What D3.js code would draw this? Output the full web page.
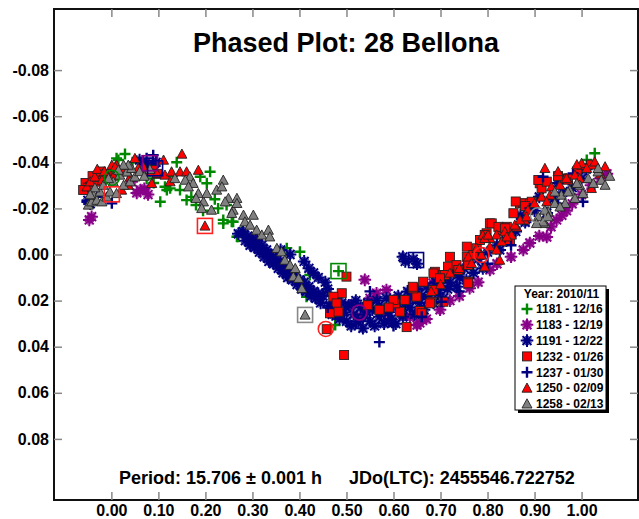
<!DOCTYPE html>
<html><head><meta charset="utf-8">
<script src="https://cdn.jsdelivr.net/npm/d3@7"></script>
<style>
html,body{margin:0;padding:0;background:#fff;}
text{font-family:"Liberation Sans",Arial,sans-serif;font-weight:bold;fill:#000;}
</style></head>
<body><svg id="c" width="639" height="519"></svg>
<script>
const title = "Phased Plot: 28 Bellona";
const periodText = "Period: 15.706 ± 0.001 h";
const epochText = "JDo(LTC): 2455546.722752";
const legendTitle = "Year: 2010/11";
const xTicks = [0,0.1,0.2,0.3,0.4,0.5,0.6,0.7,0.8,0.9,1.0];
const xTickLabels = ["0.00","0.10","0.20","0.30","0.40","0.50","0.60","0.70","0.80","0.90","1.00"];
const yTicks = [-0.08,-0.06,-0.04,-0.02,0,0.02,0.04,0.06,0.08];
const yTickLabels = ["-0.08","-0.06","-0.04","-0.02","0.00","0.02","0.04","0.06","0.08"];
const seriesNames = ["1181 - 12/16","1183 - 12/19","1191 - 12/22","1232 - 01/26","1237 - 01/30","1250 - 02/09","1258 - 02/13"];

// [phase, mag] per session
const s1181 = [[0.011,-0.0417],[0.029,-0.0436],[0.015,-0.041],[0.045,-0.040],[0.104,-0.0229],[0.118,-0.028],[0.114,-0.0294],[0.125,-0.0287],[0.139,-0.040],[0.146,-0.028],[0.16,-0.0236],[0.18,-0.0215],[0.21,-0.0359],[0.189,-0.0337],[0.203,-0.0309],[0.227,-0.020],[0.238,-0.015],[0.256,-0.0142],[0.267,-0.0077],[0.245,-0.0215],[0.238,-0.0135],[0.259,-0.0142],[0.27,-0.0077],[0.277,-0.0099],[0.323,-0.0012],[0.344,0.0031],[0.373,-0.0027],[0.401,-0.0012],[0.422,0.0089],[0.415,0.0183],[0.476,0.0306],[0.483,0.0072],[1.028,-0.0439],[1.011,-0.041],[1.003,-0.0374],[1.018,-0.0388],[0.075,-0.033],[0.09,-0.031],[0.13,-0.034],[0.17,-0.025],[0.195,-0.019],[0.22,-0.024],[0.29,-0.006],[0.31,-0.004],[0.335,0.001],[0.36,0.004],[0.39,0.010],[0.002,-0.034]];
const s1183 = [[-0.042,-0.0164],[-0.047,-0.015],[0.043,-0.0316],[0.054,-0.0267],[0.062,-0.028],[0.078,-0.026],[0.07,-0.0285],[0.08,-0.039],[0.539,0.011],[0.585,0.0154],[0.564,0.0168],[0.635,0.027],[0.656,0.0297],[0.699,0.024],[0.684,0.0124],[0.762,0.0146],[0.65,0.0306],[0.564,0.024],[0.60,0.020],[0.62,0.026],[0.67,0.028],[0.72,0.02],[0.74,0.018],[0.78,0.012],[0.805,0.0067],[0.82,0.004],[0.85,0.001],[0.876,-0.002],[0.89,-0.005],[0.91,-0.008],[0.926,-0.0076],[0.935,-0.012],[0.947,-0.015],[0.958,-0.017],[0.968,-0.019],[0.98,-0.022],[1.0,-0.026],[1.02,-0.03],[1.054,-0.035],[1.04,-0.033],[0.51,0.022],[0.55,0.019],[0.58,0.025],[0.59,0.029],[0.53,0.027]];
const s1191 = [[0.06,-0.041],[0.07,-0.039],[0.088,-0.038],[0.095,-0.040],[-0.05,-0.0235],[-0.045,-0.022],
[0.27,-0.009],[0.28,-0.01],[0.285,-0.006],[0.29,-0.008],[0.295,-0.004],[0.30,-0.007],[0.305,-0.003],[0.31,-0.006],[0.315,-0.001],[0.32,-0.004],[0.325,0.001],[0.33,-0.002],[0.335,0.003],[0.34,0.0],[0.345,0.004],[0.35,0.002],[0.355,0.006],[0.36,0.003],[0.365,0.008],[0.37,0.005],[0.375,0.010],[0.38,0.007],[0.385,0.011],[0.39,0.009],[0.395,0.013],[0.40,0.011],[0.405,0.015],[0.41,0.012],[0.415,0.016],[0.42,0.014],[0.425,0.018],[0.43,0.016],[0.435,0.019],[0.44,0.017],[0.445,0.021],[0.45,0.018],[0.41,0.003],[0.42,0.006],[0.43,0.008],[0.44,0.010],[0.38,0.0],[0.36,-0.002],[0.455,0.012],[0.46,0.015],
[0.465,0.022],[0.47,0.026],[0.475,0.019],[0.48,0.024],[0.485,0.028],[0.49,0.021],[0.495,0.025],[0.50,0.029],[0.505,0.022],[0.51,0.031],[0.515,0.026],[0.52,0.020],[0.525,0.029],[0.53,0.023],[0.535,0.032],[0.54,0.026],[0.545,0.021],[0.55,0.029],[0.555,0.024],[0.56,0.031],[0.565,0.020],[0.57,0.027],[0.575,0.023],[0.58,0.030],[0.585,0.019],[0.59,0.025],[0.595,0.028],[0.60,0.022],[0.605,0.030],[0.61,0.018],[0.615,0.024],[0.62,0.027],[0.625,0.021],[0.63,0.016],[0.635,0.023],[0.64,0.019],[0.645,0.026],[0.65,0.015],[0.655,0.021],[0.66,0.018],[0.665,0.024],[0.67,0.014],[0.675,0.019],[0.68,0.016],[0.685,0.021],[0.69,0.012],[0.695,0.017],[0.70,0.014],[0.705,0.019],[0.71,0.010],[0.715,0.015],[0.72,0.012],[0.73,0.008],[0.735,0.014],[0.74,0.010],[0.75,0.006],[0.755,0.011],[0.76,0.004],[0.77,0.008],[0.78,0.002],[0.79,0.006],[0.80,-0.001],
[0.642,0.002],[0.65,0.004],[0.62,0.001],[0.625,0.003],
[0.82,-0.004],[0.826,-0.002],[0.84,-0.006],[0.86,-0.010],[0.88,-0.014],[0.90,-0.019],[0.926,-0.018],[0.94,-0.024],[0.96,-0.027],[0.98,-0.029],[1.0,-0.033],[1.01,-0.037],[0.87,-0.017],[0.91,-0.025],[0.95,-0.031]];
const s1232 = [[-0.055,-0.031],[-0.05,-0.029],[-0.045,-0.0294],[-0.035,-0.0316],[-0.028,-0.0337],[-0.017,-0.033],[-0.04,-0.034],[-0.022,-0.036],[-0.01,-0.035],[0.089,-0.0366],[0.097,-0.035],[0.075,-0.036],[-0.06,-0.028],
[0.49,0.0168],[0.472,0.0183],[0.479,0.0212],[0.465,0.0255],[0.483,0.0248],[0.458,0.0324],[0.50,0.0096],[0.495,0.0436],[0.628,0.0315],[0.656,0.0245],[0.614,0.0248],[0.649,0.0183],[0.642,0.0147],[0.663,0.0118],[0.681,0.0205],[0.688,0.0075],[0.706,0.0089],[0.72,0.001],[0.716,0.0053],[0.734,0.0046],[0.756,0.001],[0.759,0.0118],[0.777,-0.0027],[0.685,0.0082],[0.709,0.0089],[0.603,0.0212],[0.624,0.0197],[0.641,0.014],[0.60,0.0197],[0.59,0.023],[0.57,0.024],[0.545,0.022],[0.66,0.0255],[0.685,0.0154],[0.678,0.0212],[0.706,0.0205],[0.699,0.0103],[0.738,0.0067],[0.759,0.0046],[0.759,0.0125],[0.805,-0.0135],[0.798,-0.0092],[0.826,-0.0106],[0.841,-0.012],[0.855,-0.0179],[0.869,-0.0222],[0.876,-0.0222],[0.89,-0.0222],[0.911,-0.0309],[0.915,-0.0287],[0.926,-0.0316],[0.848,-0.0063],[0.784,-0.0063],[0.756,-0.0034],[0.77,0.0002],[0.908,-0.0323],[0.894,-0.0229],[0.809,-0.0135],[0.794,-0.0085],[0.823,-0.012],[0.837,-0.0114],[0.971,-0.033],[0.95,-0.034],[0.99,-0.036],[1.02,-0.039],[0.86,-0.023],[0.88,-0.021]];
const s1237 = [[-0.052,-0.0229],[0.001,-0.0222],[0.075,-0.0417],[0.089,-0.0431],[-0.03,-0.025],[0.57,0.038],[0.702,0.0205],[1.003,-0.0229],[0.89,-0.02],[0.982,-0.0352],[0.918,-0.0337],[0.52,0.030],[0.60,0.031],[0.66,0.027],[0.74,0.016],[0.80,0.004],[0.85,-0.004],[0.95,-0.022],[0.46,0.023],[0.55,0.016]];
const s1250 = [[-0.052,-0.0294],[-0.045,-0.0316],[-0.035,-0.0337],[-0.02,-0.0323],[-0.006,-0.0337],[0.001,-0.0388],[0.011,-0.0388],[0.026,-0.0359],[0.04,-0.0337],[0.05,-0.0417],[0.068,-0.0381],[0.082,-0.0359],[0.097,-0.0352],[0.111,-0.041],[0.114,-0.0345],[0.128,-0.0359],[0.125,-0.0316],[0.146,-0.0359],[0.15,-0.0436],[0.086,-0.0309],[0.022,-0.028],[0.036,-0.0301],[0.185,-0.0366],[0.16,-0.0359],[0.199,-0.0124],[0.008,-0.038],[0.057,-0.0374],[-0.03,-0.037],[-0.015,-0.036],[0.005,-0.034],
[0.79,-0.0085],[0.805,-0.007],[0.819,-0.0085],[0.837,-0.0099],[0.851,-0.0085],[0.862,-0.012],[0.879,-0.015],[0.886,-0.0193],[0.9,-0.0222],[0.915,-0.025],[0.933,-0.0258],[0.936,-0.0294],[0.954,-0.0301],[0.971,-0.0323],[0.986,-0.0345],[0.996,-0.033],[1.0,-0.0388],[1.028,-0.0402],[1.05,-0.0381],[1.021,-0.0287],[0.965,-0.033],[0.926,-0.0229],[0.787,0.0002],[0.777,-0.0027],[0.794,-0.007],[0.805,-0.0034],[0.819,-0.002],[0.83,-0.0056],[0.841,-0.0077],[0.858,-0.0128],[0.869,-0.015],[0.883,-0.0164],[0.759,0.001],[0.766,0.0038],[0.794,0.0053],[0.826,0.0024],[0.801,-0.0085],[0.922,-0.0374],[0.968,-0.033],[1.0,-0.0396],[1.011,-0.0374],[0.74,0.006],[0.72,0.008],[0.70,0.013],[0.68,0.016],[0.95,-0.036],[0.99,-0.039],[1.04,-0.035]];
const s1258 = [[-0.049,-0.0215],[-0.042,-0.0229],[-0.038,-0.0258],[-0.031,-0.0236],[-0.024,-0.0272],[-0.02,-0.0229],[-0.017,-0.0301],[-0.01,-0.025],[-0.003,-0.0272],[0.004,-0.0316],[0.011,-0.0265],[0.018,-0.0345],[0.026,-0.0301],[0.033,-0.0359],[0.04,-0.0316],[0.043,-0.0374],[0.05,-0.0337],[0.036,-0.0388],[0.026,-0.0388],[0.015,-0.0366],[-0.006,-0.033],[0.06,-0.036],[0.07,-0.034],[0.082,-0.037],[-0.035,-0.029],[-0.045,-0.026],
[0.167,-0.0337],[0.174,-0.0309],[0.185,-0.0265],[0.196,-0.0229],[0.192,-0.02],[0.213,-0.0193],[0.203,-0.0265],[0.224,-0.028],[0.238,-0.0323],[0.235,-0.0294],[0.249,-0.0244],[0.259,-0.0193],[0.267,-0.0244],[0.18,-0.0244],[0.157,-0.0323],[0.135,-0.033],[0.164,-0.0294],[0.242,-0.0229],[0.256,-0.0179],[0.267,-0.0222],[0.281,-0.0171],[0.302,-0.0171],[0.284,-0.0142],[0.295,-0.0128],[0.309,-0.0106],[0.32,-0.0085],[0.334,-0.0106],[0.337,-0.0077],[0.352,-0.0027],[0.362,-0.0012],[0.369,0.0024],[0.38,0.0046],[0.387,0.0096],[0.398,0.0103],[0.405,0.0147],[0.412,0.0262],[0.391,0.006],
[0.908,-0.0164],[0.922,-0.0135],[0.929,-0.0186],[0.943,-0.0222],[0.957,-0.0258],[0.965,-0.0222],[0.975,-0.028],[0.986,-0.0244],[0.996,-0.0301],[1.003,-0.0265],[1.014,-0.033],[1.025,-0.0309],[1.035,-0.0359],[1.042,-0.0323],[1.05,-0.0301],[1.035,-0.0374],[0.943,-0.0272],[0.971,-0.0272],[0.922,-0.0193],[0.954,-0.0207],[0.99,-0.0309],[0.918,-0.0142],[0.929,-0.0164],[0.904,-0.0135],[1.06,-0.034]];

// session start/end markers: [series index, shape, phase, mag]
const markers = [[0,"square",0.483,0.0072],[0,"circle",0.001,-0.0333],[1,"square",0.082,-0.0396],[1,"circle",0.527,0.0252],[2,"square",0.648,0.0024],[2,"square",0.093,-0.0374],[3,"square",0.001,-0.0261],[3,"circle",0.456,0.0323],[5,"square",0.199,-0.0124],[5,"circle",0.787,0.0002],[6,"square",0.412,0.0262],[6,"circle",0.907,-0.017]];

const seriesData = [s1181,s1183,s1191,s1232,s1237,s1250,s1258];
const seriesShape = ["plus","star","star","square","plus","triangle","triangle"];
const seriesColor = ["#008800","#880088","#000080","#ff0000","#000080","#ff0000","#808080"];
const markerColor = ["#008800","#880088","#000080","#ff2020","#000080","#ff2020","#888888"];

const svg = d3.select("#c");
const L=54,R=638,T=9,B=500;
const x = d3.scaleLinear().domain([-0.122,1.12]).range([L,R]);
const y = d3.scaleLinear().domain([-0.1065,0.1065]).range([T,B]);

function rays(r, off){
  let p="";
  for(let k=0;k<4;k++){const a=k*Math.PI/4+off;p+=`M${(-r*Math.cos(a)).toFixed(2)},${(-r*Math.sin(a)).toFixed(2)}L${(r*Math.cos(a)).toFixed(2)},${(r*Math.sin(a)).toFixed(2)}`;}
  return p;
}
function drawSymbol(g, shape, color){
  if(shape==="plus"){
    g.append("path").attr("d","M-5.5,0H5.5M0,-5.5V5.5").attr("stroke",color).attr("stroke-width",2.4).attr("fill","none");
  } else if(shape==="star"){
    g.append("path").attr("d",rays(6.3,0)).attr("stroke",color).attr("stroke-width",2).attr("fill","none");
    g.append("path").attr("d",rays(5,Math.PI/8)).attr("stroke",color).attr("stroke-width",0.9).attr("fill","none");
  } else if(shape==="square"){
    g.append("rect").attr("x",-4.5).attr("y",-4.5).attr("width",9).attr("height",9).attr("fill",color).attr("stroke","#222").attr("stroke-width",0.9);
  } else if(shape==="triangle"){
    g.append("path").attr("d","M0,-5L5,4.2L-5,4.2Z").attr("fill",color).attr("stroke","#222").attr("stroke-width",0.9);
  }
}

// frame
svg.append("rect").attr("x",L).attr("y",T).attr("width",R-L).attr("height",B-T).attr("fill","none").attr("stroke","#111").attr("stroke-width",2);

// axes
function styleAxis(g){ g.select(".domain").remove(); g.selectAll(".tick line").attr("stroke","#888").attr("stroke-width",1.5); g.selectAll("text").style("font-size","16px").style("font-family",'"Liberation Sans",Arial,sans-serif').style("font-weight","bold").attr("fill","#000"); }
svg.append("g").attr("transform",`translate(${L},0)`).call(d3.axisLeft(y).tickValues(yTicks).tickSize(-8).tickPadding(5).tickFormat((d,i)=>yTickLabels[i])).call(styleAxis);
svg.append("g").attr("transform",`translate(${R},0)`).call(d3.axisRight(y).tickValues(yTicks).tickSize(-8).tickFormat("")).call(styleAxis);
svg.append("g").attr("transform",`translate(0,${B})`).call(d3.axisBottom(x).tickValues(xTicks).tickSize(-8).tickPadding(5).tickFormat((d,i)=>xTickLabels[i])).call(styleAxis);
svg.append("g").attr("transform",`translate(0,${T})`).call(d3.axisTop(x).tickValues(xTicks).tickSize(-8).tickFormat("")).call(styleAxis);

// points
const plot = svg.append("g");
seriesData.forEach((arr,si)=>{
  const gs = plot.append("g");
  arr.forEach(d=>{
    const g = gs.append("g").attr("transform",`translate(${x(d[0]).toFixed(2)},${y(d[1]).toFixed(2)})`);
    drawSymbol(g, seriesShape[si], seriesColor[si]);
  });
});
// session markers
markers.forEach(m=>{
  const cx=x(m[2]), cy=y(m[3]);
  if(m[1]==="square"){
    plot.append("rect").attr("x",cx-7.5).attr("y",cy-7.5).attr("width",15).attr("height",15).attr("fill","none").attr("stroke",markerColor[m[0]]).attr("stroke-width",1.6);
  } else {
    plot.append("circle").attr("cx",cx).attr("cy",cy).attr("r",7.5).attr("fill","none").attr("stroke",markerColor[m[0]]).attr("stroke-width",1.6);
  }
});

// title and footer
svg.append("text").attr("x",(L+R)/2).attr("y",52).attr("text-anchor","middle").style("font-size","27px").text(title);
svg.append("text").attr("x",119).attr("y",484).style("font-size","18px").text(periodText);
svg.append("text").attr("x",349).attr("y",484).style("font-size","18px").text(epochText);

// legend
const lg = svg.append("g");
const lx=515, ly=286, lw=91, lh=124;
lg.append("rect").attr("x",lx+3).attr("y",ly+3).attr("width",lw).attr("height",lh).attr("fill","#000");
lg.append("rect").attr("x",lx).attr("y",ly).attr("width",lw).attr("height",lh).attr("fill","#fff").attr("stroke","#000").attr("stroke-width",1);
lg.append("text").attr("x",lx+lw/2+1).attr("y",ly+12).attr("text-anchor","middle").style("font-size","12px").text(legendTitle);
seriesNames.forEach((n,i)=>{
  const cy = ly+23+i*15.8;
  const g = lg.append("g").attr("transform",`translate(${lx+12},${cy})`);
  drawSymbol(g, seriesShape[i], seriesColor[i]);
  lg.append("text").attr("x",lx+21).attr("y",cy+4.3).style("font-size","12px").text(n);
});
</script></body></html>
